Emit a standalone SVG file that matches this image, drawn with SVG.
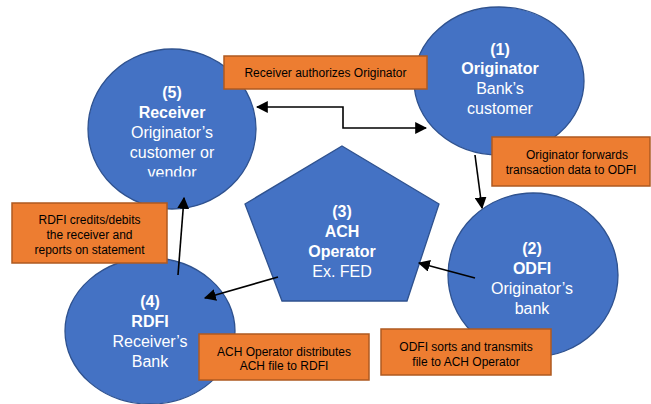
<svg xmlns="http://www.w3.org/2000/svg" width="651" height="404" viewBox="0 0 651 404">
<style>
.node{fill:#4472C4;stroke:#2F528F;stroke-width:1.3}
.box{fill:#ED7D31;stroke:#AE5A21;stroke-width:1.5}
.nt{font-family:"Liberation Sans",Arial,sans-serif;font-size:16px;fill:#FFFFFF;text-anchor:middle}
.b{font-weight:bold}
.bt{font-family:"Liberation Sans",Arial,sans-serif;font-size:12px;fill:#000000;text-anchor:middle}
.c{fill:none;stroke:#000000;stroke-width:1.6}
</style>
<defs>
<marker id="ah" viewBox="0 0 10 10" refX="9" refY="5" markerWidth="7.5" markerHeight="7.5" orient="auto-start-reverse" markerUnits="strokeWidth">
<path d="M0,0 L10,5 L0,10 z" fill="#000"/>
</marker>
<clipPath id="clip5"><rect x="80" y="40" width="190" height="136.5"/></clipPath>
</defs>
<rect width="651" height="404" fill="#FFFFFF"/>
<g id="n5">
<ellipse class="node" cx="172" cy="129" rx="84" ry="80"/>
<g clip-path="url(#clip5)">
<text class="nt b" x="172" y="98">(5)</text>
<text class="nt b" x="172" y="118">Receiver</text>
<text class="nt" x="172" y="138">Originator’s</text>
<text class="nt" x="172" y="158">customer or</text>
<text class="nt" x="172" y="178">vendor</text>
</g>
</g>
<g id="n1">
<ellipse class="node" cx="499" cy="81" rx="85" ry="74"/>
<text class="nt b" x="500" y="55">(1)</text>
<text class="nt b" x="500" y="74">Originator</text>
<text class="nt" x="500" y="94">Bank’s</text>
<text class="nt" x="500" y="114">customer</text>
</g>
<g id="n2">
<ellipse class="node" cx="533" cy="275" rx="85" ry="82"/>
<text class="nt b" x="532" y="254">(2)</text>
<text class="nt b" x="532" y="274">ODFI</text>
<text class="nt" x="532" y="294">Originator’s</text>
<text class="nt" x="532" y="314">bank</text>
</g>
<g id="n3">
<polygon class="node" points="342,146 439,204 407,301 282,301 245,204"/>
<text class="nt b" x="342" y="217">(3)</text>
<text class="nt b" x="342" y="237">ACH</text>
<text class="nt b" x="342" y="257">Operator</text>
<text class="nt" x="342" y="277">Ex. FED</text>
</g>
<g id="n4">
<ellipse class="node" cx="150" cy="331" rx="85" ry="73"/>
<text class="nt b" x="150" y="307">(4)</text>
<text class="nt b" x="150" y="327">RDFI</text>
<text class="nt" x="150" y="347">Receiver’s</text>
<text class="nt" x="150" y="367">Bank</text>
</g>
<g id="connectors">
<polyline class="c" points="257,107 343,107 343,128 426,128" marker-start="url(#ah)" marker-end="url(#ah)"/>
<line class="c" x1="475" y1="155" x2="482" y2="208" marker-end="url(#ah)"/>
<line class="c" x1="475" y1="278" x2="419" y2="263" marker-end="url(#ah)"/>
<line class="c" x1="278" y1="277" x2="205" y2="298" marker-end="url(#ah)"/>
<line class="c" x1="178" y1="275" x2="184" y2="198" marker-end="url(#ah)"/>
</g>
<g id="l1">
<rect class="box" x="224" y="56" width="203" height="33"/>
<text class="bt" x="325.5" y="76.5">Receiver authorizes Originator</text>
</g>
<g id="l2">
<rect class="box" x="492" y="137" width="158" height="49"/>
<text class="bt" x="577" y="158.5">Originator forwards</text>
<text class="bt" x="571" y="173.5">transaction data to ODFI</text>
</g>
<g id="l3">
<rect class="box" x="12" y="203" width="155" height="60"/>
<text class="bt" x="89.5" y="223.5">RDFI credits/debits</text>
<text class="bt" x="89.5" y="238.5">the receiver and</text>
<text class="bt" x="89.5" y="253.5">reports on statement</text>
</g>
<g id="l4">
<rect class="box" x="199" y="334" width="170" height="46"/>
<text class="bt" x="284" y="355.5">ACH Operator distributes</text>
<text class="bt" x="284" y="369.5">ACH file to RDFI</text>
</g>
<g id="l5">
<rect class="box" x="381" y="329" width="170" height="46"/>
<text class="bt" x="466" y="350.5">ODFI sorts and transmits</text>
<text class="bt" x="466" y="365.5">file to ACH Operator</text>
</g>
</svg>
